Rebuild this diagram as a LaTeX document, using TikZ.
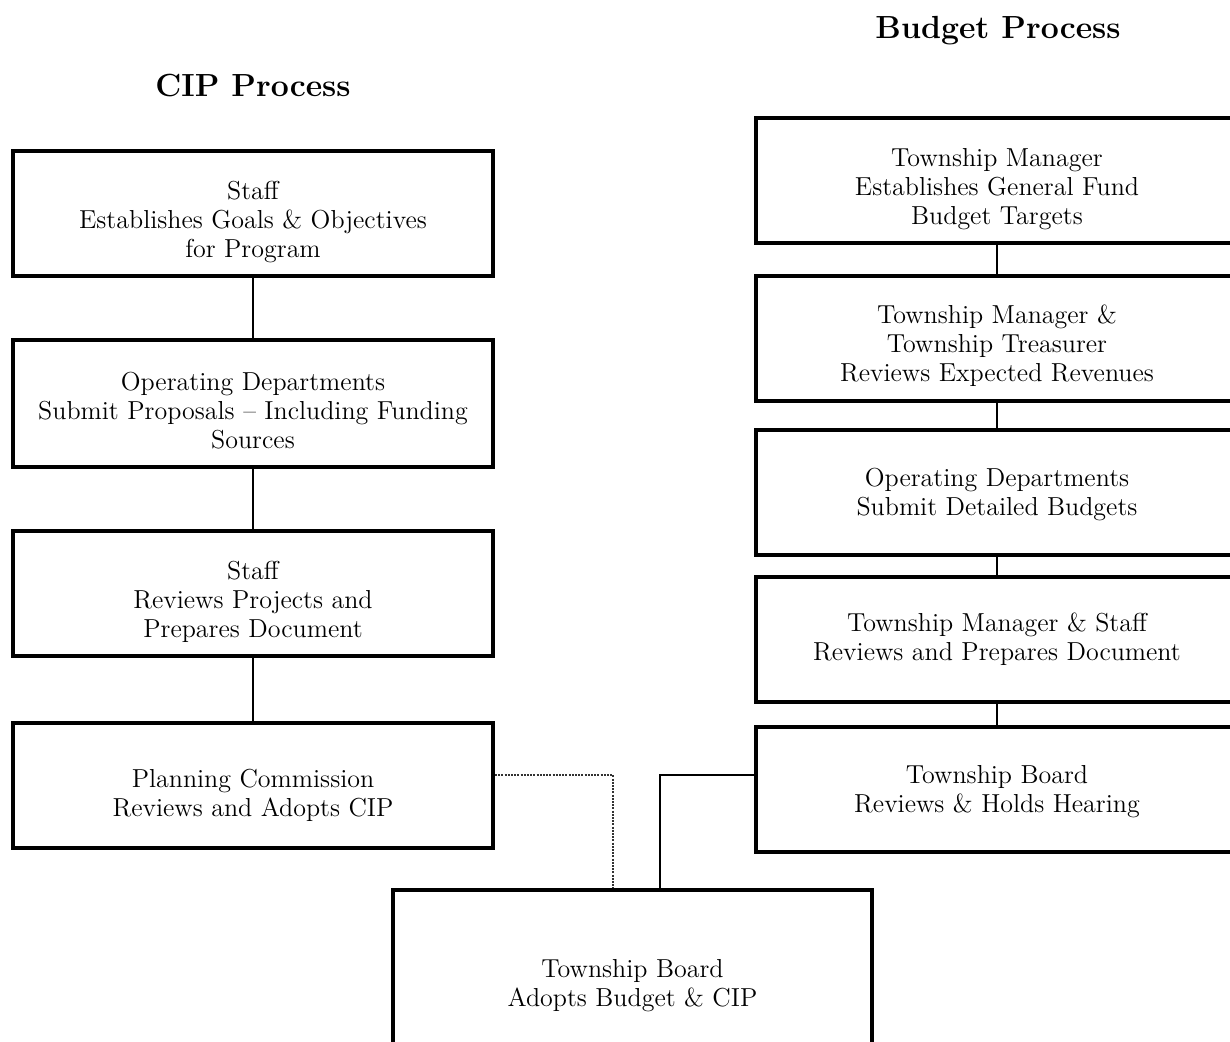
\documentclass[tikz,border=0pt]{standalone}
\usetikzlibrary{positioning}

\begin{document}
\begin{tikzpicture}[x=0.5pt, y=-0.5pt, font=\fontsize{13}{14.5}\selectfont,
    box/.style={draw, line width=2pt, minimum width=240pt, minimum height=62.5pt, align=center, inner sep=0pt},
    txt/.style={text height=#1, text depth=0pt},
    link/.style={line width=1pt},
    dotlink/.style={line width=1pt, black!80, dash pattern=on 1pt off 0.6pt}]
    \useasboundingbox (0,0) rectangle (1230,1041);
    \clip (0,0) rectangle (1230,1041);
    \node[font=\fontsize{16}{19}\selectfont\bfseries] (cip_title) at (253,86) {CIP Process};
    \node[font=\fontsize{16}{19}\selectfont\bfseries] (bud_title) at (998,31) {Budget Process};
    % CIP column
    \node[box, txt=43.5pt] (cip1) at (253,213.5) {Staff\\Establishes Goals \& Objectives\\for Program};
    \node[box, txt=45.2pt, minimum height=63.5pt] (cip2) at (253,403.5) {Operating Departments\\Submit Proposals -- Including Funding\\Sources};
    \node[box, txt=43.5pt] (cip3) at (253,593.5) {Staff\\Reviews Projects and\\Prepares Document};
    \node[box, txt=30.5pt] (cip4) at (253,785.5) {Planning Commission\\Reviews and Adopts CIP};
    % Budget column
    \node[box, txt=43.5pt, minimum width=241pt] (bud1) at (997,180.5) {Township Manager\\Establishes General Fund\\Budget Targets};
    \node[box, txt=43.2pt, minimum width=241pt] (bud2) at (997,338.5) {Township Manager \&\\Township Treasurer\\Reviews Expected Revenues};
    \node[box, txt=23pt, minimum width=241pt] (bud3) at (997,492.5) {Operating Departments\\Submit Detailed Budgets};
    \node[box, txt=20.5pt, minimum width=241pt] (bud4) at (997,639.5) {Township Manager \& Staff\\Reviews and Prepares Document};
    \node[box, txt=22.5pt, minimum width=241pt] (bud5) at (997,789.5) {Township Board\\Reviews \& Holds Hearing};
    \node[box, txt=22pt, minimum width=239.5pt, minimum height=94pt] (adopt) at (632.5,984) {Township Board\\Adopts Budget \& CIP};
    \draw[link] (cip1.south) -- (cip2.north);
    \draw[link] (cip2.south) -- (cip3.north);
    \draw[link] (cip3.south) -- (cip4.north);
    \draw[link] (bud1.south) -- (bud2.north);
    \draw[link] (bud2.south) -- (bud3.north);
    \draw[link] (bud3.south) -- (bud4.north);
    \draw[link] (bud4.south) -- (bud5.north);
    \draw[dotlink] ([yshift=5.25pt]cip4.east) -| ([xshift=-9.75pt]adopt.north);
    \draw[link] ([yshift=7.25pt]bud5.west) -| ([xshift=13.75pt]adopt.north);
\end{tikzpicture}
\end{document}
